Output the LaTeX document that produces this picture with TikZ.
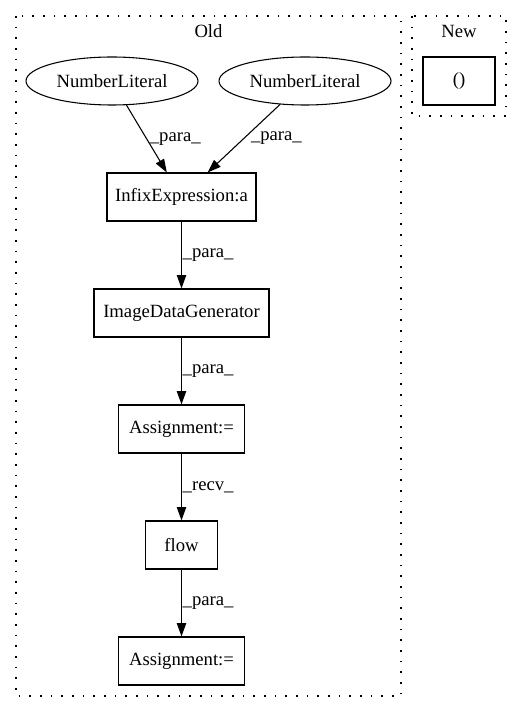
\documentclass[tikz,border=0pt]{standalone}
\usepackage{fontspec}
\setmainfont{Liberation Serif}
\usetikzlibrary{shapes.geometric,arrows.meta}
\begin{document}
\begin{tikzpicture}[x=0.75pt,y=-0.75pt,
  every node/.style={font=\fontsize{14}{16}\selectfont},
  boxnode/.style={draw,rectangle,line width=0.8pt,minimum height=36pt,inner sep=0pt},
  ellnode/.style={draw,ellipse,line width=0.8pt,minimum width=129pt,minimum height=36pt,inner sep=0pt},
  cluster/.style={line width=0.9pt,dash pattern=on 1.2pt off 6.8pt},
  arr/.style={line width=0.8pt,-{Triangle[length=10pt,width=7pt]}},
  lbl/.style={midway,anchor=west,inner sep=2pt}]
\useasboundingbox (0,0) rectangle (521,712);
% clusters
\draw[cluster] (16,16) rectangle (401,696);
\draw[cluster] (412,16) rectangle (506,116);
\node (told) at (208.5,31) {Old};
\node (tnew) at (459,31) {New};
% nodes
\node[ellnode] (n1) at (112,81) {NumberLiteral};
\node[ellnode] (n2) at (305,81) {NumberLiteral};
\node[boxnode,minimum width=111.75pt] (infix) at (181.5,197) {InfixExpression:a};
\node[boxnode,minimum width=131.25pt] (idg) at (181.5,313) {ImageDataGenerator};
\node[boxnode,minimum width=94.5pt] (as1) at (181.5,429) {Assignment:=};
\node[boxnode,minimum width=54pt] (flow) at (181.5,545) {flow};
\node[boxnode,minimum width=94.5pt] (as2) at (181.5,661) {Assignment:=};
\node[boxnode,minimum width=54pt] (empty) at (459,81) {()};
% edges
\draw[arr] (n1) -- (infix) node[lbl] (l1) {\_para\_};
\draw[arr] (n2) -- (infix) node[lbl,xshift=3pt] (l2) {\_para\_};
\draw[arr] (infix) -- (idg) node[lbl,inner sep=0.5pt] (l3) {\_para\_};
\draw[arr] (idg) -- (as1) node[lbl,inner sep=0.5pt] (l4) {\_para\_};
\draw[arr] (as1) -- (flow) node[lbl,inner sep=0.5pt] (l5) {\_recv\_};
\draw[arr] (flow) -- (as2) node[lbl,inner sep=0.5pt] (l6) {\_para\_};
\end{tikzpicture}
\end{document}
